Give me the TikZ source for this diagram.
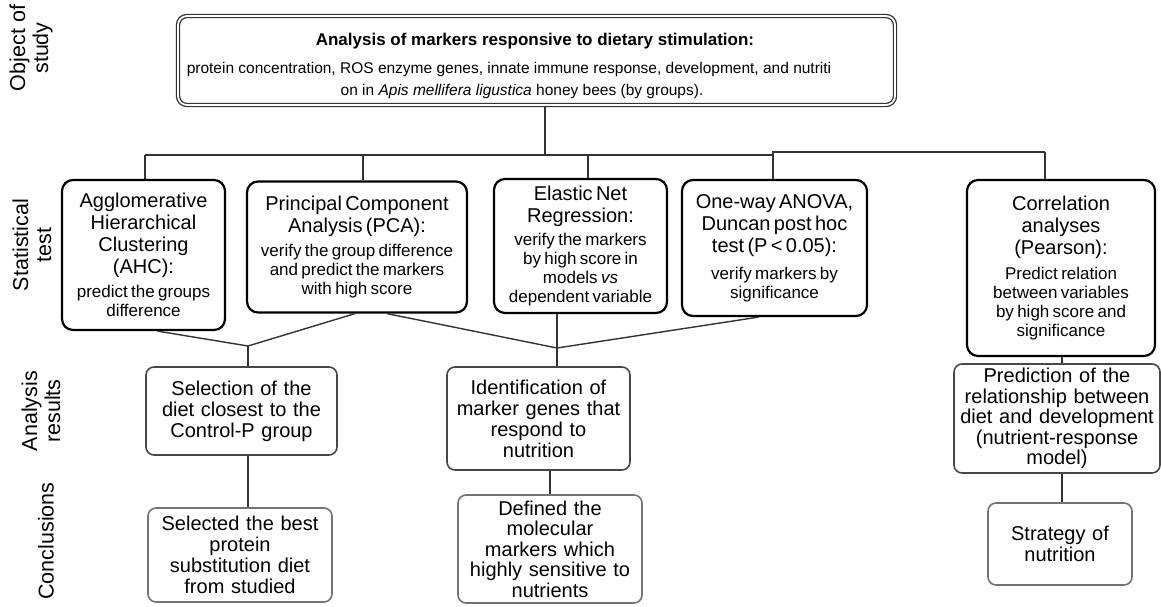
\documentclass[tikz,border=0pt]{standalone}
\usepackage{fontspec}
\setmainfont{Liberation Sans}
\newcommand\ttlf{\fontsize{20}{22}\selectfont}
\newcommand\smf{\fontsize{17}{19}\selectfont}
\newcommand\resf{\fontsize{20}{21}\selectfont}
\newcommand\lblf{\fontsize{21.5}{23}\selectfont}
\begin{document}
\begin{tikzpicture}[x=1pt,y=-1pt,
  topbox/.style={draw=black!80,double=white,double distance=1.8pt,line width=1.3pt,rounded corners=9pt,fill=white,inner sep=0pt},
  statbox/.style={draw=black,line width=2.2pt,rounded corners=11pt,fill=white,inner sep=0pt,align=center},
  resbox/.style={draw=black!72,line width=1.6pt,rounded corners=8pt,fill=white,inner sep=0pt,align=center,font=\resf},
  conbox/.style={draw=black!55,line width=1.6pt,rounded corners=8pt,fill=white,inner sep=0pt,align=center,font=\resf},
  conn/.style={draw=black!80,line width=1.4pt},
  lbl/.style={rotate=90,align=center,inner sep=0pt,font=\lblf}]
\useasboundingbox (0,0) rectangle (1161,606);
\fill[white] (0,0) rectangle (1161,606);

% left labels
\node[lbl] (l1) at (31,48) {Object of\\study};
\node[lbl] (l2) at (32,245) {Statistical\\test};
\node[lbl] (l3) at (41,411) {Analysis\\results};
\node[lbl] (l4) at (46,541) {Conclusions};

% top box
\node[topbox, minimum width=717pt, minimum height=89pt] (top) at (536.5,60.5) {};
\node[inner sep=0pt, font=\bfseries\fontsize{17}{20}\selectfont] (ttl) at (535,41)
 {Analysis of markers responsive to dietary stimulation:};
\node[inner sep=0pt, font=\fontsize{15.5}{20}\selectfont] (sub1) at (509,69)
 {protein concentration, ROS enzyme genes, innate immune response, development, and nutriti};
\node[inner sep=0pt, font=\fontsize{15.5}{20}\selectfont] (sub2) at (522,91)
 {on in \textit{Apis mellifera ligustica} honey bees (by groups).};

% statistical tests
\node[statbox, minimum width=163pt, minimum height=150pt, text width=157pt] (ahc) at (143.5,255)
 {{\ttlf Agglomerative\\Hierarchical\\Clustering\\(AHC):\par}\vspace{5pt}{\smf predict the groups\\difference\par}};
\node[statbox, minimum width=220pt, minimum height=131pt, text width=214pt] (pca) at (357,247)
 {{\ttlf Principal Component\\Analysis (PCA):\par}\vspace{5pt}{\smf verify the group difference\\and predict the markers\\with high score\par}};
\node[statbox, minimum width=173pt, minimum height=134pt, text width=167pt] (ela) at (580.5,246)
 {{\ttlf Elastic Net\\Regression:\par}\vspace{4pt}{\smf verify the markers\\by high score in\\models \textit{vs}\\dependent variable\par}};
\node[statbox, minimum width=185pt, minimum height=136pt, text width=179pt] (anova) at (774.5,248)
 {{\ttlf One-way ANOVA,\\Duncan post hoc\\test (P < 0.05):\par}\vspace{8pt}{\smf verify markers by\\significance\par}};
\node[statbox, minimum width=188pt, minimum height=176pt, text width=182pt] (corr) at (1061,268)
 {{\ttlf Correlation\\analyses\\(Pearson):\par}\vspace{6pt}{\smf Predict relation\\between variables\\by high score and\\significance\par}};

% analysis results
\node[resbox, minimum width=191pt, minimum height=88pt, text width=185pt] (sel) at (241.5,411)
 {Selection of the\\diet closest to the\\Control-P group};
\node[resbox, minimum width=183pt, minimum height=103pt, text width=177pt] (ident) at (538.5,418.5)
 {Identification of\\marker genes that\\respond to\\nutrition};
\node[resbox, minimum width=206pt, minimum height=109pt, text width=202pt, font=\fontsize{20}{20.5}\selectfont] (pred) at (1057,418.5)
 {Prediction of the\\relationship between\\diet and development\\(nutrient-response\\model)};

% conclusions
\node[conbox, minimum width=184pt, minimum height=94pt, text width=178pt] (seld) at (240,555)
 {Selected the best\\protein\\substitution diet\\from studied};
\node[conbox, minimum width=184pt, minimum height=108pt, text width=178pt, font=\fontsize{20}{20.5}\selectfont] (def) at (550,549)
 {Defined the\\molecular\\markers which\\highly sensitive to\\nutrients};
\node[conbox, minimum width=144pt, minimum height=82pt, text width=138pt] (strat) at (1060,544)
 {Strategy of\\nutrition};

% bus
\coordinate (bT) at (545,155);
\coordinate (bA) at (145,155);
\coordinate (bP) at (363,155);
\coordinate (bE) at (588,155);
\coordinate (bN) at (773,155);
\coordinate (bNr) at (773,152);
\coordinate (bC) at (1045,152);
\draw[conn] (top.south -| bT) -- (bT);
\draw[conn] (bA) -- (bN) -- (bNr) -- (bC);
\draw[conn] (bA) -- (bA |- ahc.north);
\draw[conn] (bP) -- (bP |- pca.north);
\draw[conn] (bE) -- (bE |- ela.north);
\draw[conn] (bNr) -- (bNr |- anova.north);
\draw[conn] (bC) -- (bC |- corr.north);

% merges
\coordinate (m1) at (248,346);
\coordinate (m2) at (557,348);
\draw[conn] ([xshift=14pt]ahc.south) -- (m1);
\draw[conn] ([xshift=-2pt]pca.south) -- (m1);
\draw[conn] ([xshift=30pt]pca.south) -- (m2);
\draw[conn] (m2 |- ela.south) -- (m2);
\draw[conn] ([xshift=-16pt]anova.south) -- (m2);
\draw[conn] (m1) -- (m1 |- sel.north);
\draw[conn] (m2) -- (m2 |- ident.north);

% results to conclusions
\draw[conn] (m1 |- sel.south) -- (m1 |- seld.north);
\draw[conn] ([xshift=11.5pt]ident.south) -- ([xshift=11.5pt]ident.south |- def.north);
\draw[conn] ([xshift=1pt]corr.south) -- ([xshift=1pt]corr.south |- pred.north);
\draw[conn] ([xshift=5pt]pred.south) -- ([xshift=5pt]pred.south |- strat.north);
\end{tikzpicture}
\end{document}
